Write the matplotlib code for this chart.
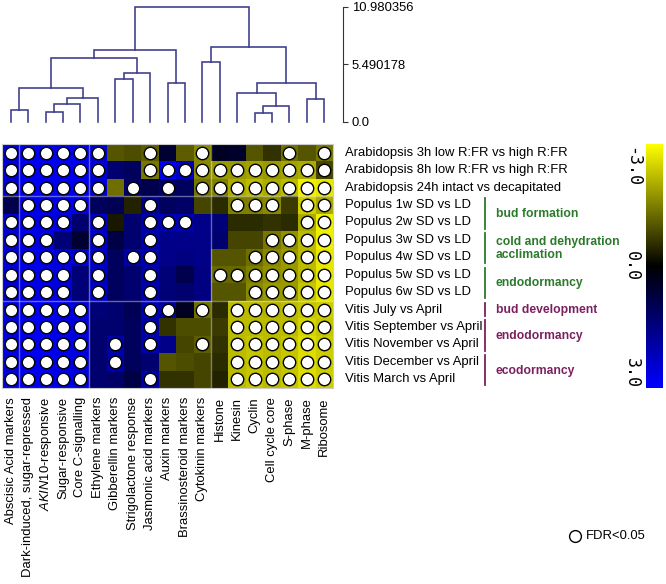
import numpy as np
import matplotlib
matplotlib.use('Agg')
import matplotlib.pyplot as plt
import matplotlib.transforms as mtransforms
from matplotlib.colors import LinearSegmentedColormap
from matplotlib.lines import Line2D

plt.rcParams['font.family'] = ['Liberation Sans', 'DejaVu Sans']
plt.rcParams['mathtext.fontset'] = 'custom'
plt.rcParams['mathtext.rm'] = 'Liberation Sans'
plt.rcParams['mathtext.it'] = 'Liberation Sans:italic'

## DATA

col_labels = ['Abscisic Acid markers', 'Dark-induced, sugar-repressed',
              r'$\mathit{AKIN10}$-responsive', 'Sugar-responsive',
              'Core C-signalling', 'Ethylene markers', 'Gibberellin markers',
              'Strigolactone response', 'Jasmonic acid markers', 'Auxin markers',
              'Brassinosteroid markers', 'Cytokinin markers', 'Histone', 'Kinesin',
              'Cyclin', 'Cell cycle core', 'S-phase', 'M-phase', 'Ribosome']

row_labels = ['Arabidopsis 3h low R:FR vs high R:FR',
              'Arabidopsis 8h low R:FR vs high R:FR',
              'Arabidopsis 24h intact vs decapitated',
              'Populus 1w SD vs LD', 'Populus 2w SD vs LD', 'Populus 3w SD vs LD',
              'Populus 4w SD vs LD', 'Populus 5w SD vs LD', 'Populus 6w SD vs LD',
              'Vitis July vs April', 'Vitis September vs April',
              'Vitis November vs April', 'Vitis December vs April',
              'Vitis March vs April']

# cell values (yellow = -3, black = 0, blue = 3)
vals = [
    [2.5, 2.8, 2.8, 2.8, 2.8, 2.5, -1.0, -0.9, -1.1, 0.6, -1.1, -1.6, 0.4, 0.5, -1.0, -0.6, -1.3, -1.0, -1.4],
    [2.5, 2.8, 2.8, 2.8, 2.8, 2.5, 1.3, 1.1, -1.4, 2.9, 2.3, -1.6, -1.8, -1.8, -1.9, -1.8, -1.9, -2.0, -0.8],
    [2.5, 2.8, 2.8, 2.8, 2.8, 2.5, -1.3, 1.2, 0.9, 1.2, 1.1, -1.4, -1.5, -2.0, -2.2, -2.0, -2.2, -2.8, -2.7],
    [0.9, 2.7, 2.7, 2.7, 2.7, 1.1, 1.0, -0.4, 1.6, 1.1, 1.2, -0.8, -0.5, -1.5, -1.5, -1.6, -0.7, -2.4, -2.0],
    [2.5, 2.7, 2.7, 2.6, 1.3, 2.3, -0.3, 1.3, 2.0, 2.1, 2.1, 1.6, 1.4, -0.5, -0.5, -0.6, -0.5, -2.0, -2.8],
    [2.5, 2.7, 2.6, 1.4, 0.6, 2.3, 0.8, 1.3, 2.0, 1.6, 1.6, 1.6, 1.3, -0.8, -0.8, -1.4, -1.7, -2.2, -2.8],
    [2.5, 2.7, 2.7, 2.6, 2.5, 2.3, 1.1, 1.9, 2.0, 1.6, 1.5, 1.6, -1.0, -1.0, -1.3, -1.6, -1.8, -2.2, -2.7],
    [2.5, 2.7, 2.7, 2.6, 1.4, 2.3, 1.1, 1.3, 2.0, 1.4, 0.9, 1.5, -1.2, -1.2, -1.5, -1.7, -1.8, -2.2, -2.7],
    [2.5, 2.7, 2.7, 2.6, 1.4, 2.3, 1.1, 1.3, 2.0, 1.4, 1.3, 1.5, -1.0, -1.0, -1.6, -1.8, -1.8, -2.3, -2.7],
    [2.6, 2.8, 2.8, 2.7, 2.6, 1.4, 1.3, 1.0, 2.1, 1.9, 0.4, -1.3, -0.5, -2.2, -2.2, -2.1, -2.2, -2.3, -2.4],
    [2.6, 2.8, 2.8, 2.7, 2.6, 1.3, 1.3, 1.1, 2.0, -0.6, -0.9, -0.9, -0.7, -2.2, -2.2, -2.2, -2.2, -2.5, -2.3],
    [2.6, 2.8, 2.8, 2.7, 2.6, 1.3, 2.0, 1.1, 2.0, 1.6, -0.8, -1.1, -0.6, -2.2, -2.3, -2.2, -2.3, -2.6, -2.4],
    [2.6, 2.8, 2.8, 2.7, 2.6, 1.3, 2.0, 1.1, 1.3, -1.0, -0.9, -0.8, -0.5, -2.2, -2.3, -2.2, -2.3, -2.6, -2.4],
    [2.6, 2.8, 2.8, 2.7, 2.6, 1.3, 1.2, 0.8, 2.0, -0.6, -0.6, -0.8, -0.4, -2.2, -2.3, -2.2, -2.3, -2.6, -2.4],
]

# columns (1-based) with FDR<0.05
sig = [
    [1, 2, 3, 4, 5, 6, 9, 12, 17, 19],
    [1, 2, 3, 4, 5, 6, 9, 10, 11, 12, 13, 14, 15, 16, 17, 18, 19],
    [1, 2, 3, 4, 5, 6, 8, 10, 12, 13, 14, 15, 16, 17, 18, 19],
    [2, 3, 4, 5, 9, 14, 15, 16, 18, 19],
    [1, 2, 3, 4, 6, 9, 10, 11, 18, 19],
    [1, 2, 3, 6, 9, 16, 17, 18, 19],
    [1, 2, 3, 4, 5, 6, 8, 9, 15, 16, 17, 18, 19],
    [1, 2, 3, 4, 6, 9, 13, 14, 15, 16, 17, 18, 19],
    [1, 2, 3, 4, 6, 9, 15, 16, 17, 18, 19],
    [1, 2, 3, 4, 5, 9, 10, 12, 14, 15, 16, 17, 18, 19],
    [1, 2, 3, 4, 5, 9, 14, 15, 16, 17, 18, 19],
    [1, 2, 3, 4, 5, 7, 9, 12, 14, 15, 16, 17, 18, 19],
    [1, 2, 3, 4, 5, 7, 14, 15, 16, 17, 18, 19],
    [1, 2, 3, 4, 5, 9, 14, 15, 16, 17, 18, 19],
]

# column dendrogram: (left, right, height), leaves 0..18, new nodes from 19
merges = [(0, 1, 1.12), (2, 3, 0.90), (20, 4, 1.72), (21, 5, 2.29),
          (19, 22, 3.19), (6, 7, 4.05), (24, 8, 4.62), (23, 25, 6.06),
          (9, 10, 3.72), (26, 27, 6.85), (11, 12, 5.73), (14, 15, 0.80),
          (30, 16, 1.50), (13, 31, 2.71), (17, 18, 2.17), (32, 33, 3.72),
          (29, 34, 7.11), (28, 35, 10.980356)]
dend_ticks = [0.0, 5.490178, 10.980356]
dend_ticklabels = ['0.0', '5.490178', '10.980356']

groups = [('bud formation', 3, 4, '#2b7a2b'),
          ('cold and dehydration\nacclimation', 5, 6, '#2b7a2b'),
          ('endodormancy', 7, 8, '#2b7a2b'),
          ('bud development', 9, 9, '#7a2060'),
          ('endodormancy', 10, 11, '#7a2060'),
          ('ecodormancy', 12, 13, '#7a2060')]

cbar_ticks = [-3.0, 0.0, 3.0]

## FIGURE

W, H = 666, 584
fig = plt.figure(figsize=(W / 100, H / 100), dpi=100)


def px_axes(x0, y0, x1, y1):
    return fig.add_axes([x0 / W, 1 - y1 / H, (x1 - x0) / W, (y1 - y0) / H])


cmap = LinearSegmentedColormap.from_list('ykb', ['#ffff00', '#000000', '#0000ff'])
nrow, ncol = len(row_labels), len(col_labels)

# heatmap
ax = px_axes(2, 144, 333, 388)
ax.imshow(np.array(vals), cmap=cmap, vmin=-3, vmax=3, aspect='auto',
          interpolation='nearest')
for r, cols in enumerate(sig):
    ax.scatter([c - 1 for c in cols], [r] * len(cols), s=80, facecolor='white',
               edgecolor='black', linewidth=1.0, zorder=3)
for y in [2.5, 8.5]:
    ax.axhline(y, color='white', alpha=0.4, lw=1)
for x in [0.5, 4.5, 11.5]:
    ax.axvline(x, color='white', alpha=0.4, lw=1)
ax.set_xticks([])
ax.set_yticks([])
for s in ax.spines.values():
    s.set_color('#cccccc')
    s.set_linewidth(0.8)

# row labels
tr_row = mtransforms.blended_transform_factory(fig.transFigure, ax.transData)
for i, lab in enumerate(row_labels):
    ax.text(345 / W, i, lab, transform=tr_row, ha='left', va='center', fontsize=9.4)

# column labels
tr_col = mtransforms.blended_transform_factory(ax.transData, fig.transFigure)
for j, lab in enumerate(col_labels):
    ax.text(j, 1 - 397 / H, lab, transform=tr_col, rotation=90, ha='center',
            va='top', fontsize=9.4)

# group annotations
for lab, r0, r1, colr in groups:
    ax.plot([485 / W, 485 / W], [r0 - 0.4, r1 + 0.35], transform=tr_row,
            color=colr, lw=1.3, clip_on=False)
    ax.text(496 / W, (r0 + r1) / 2, lab, transform=tr_row, ha='left', va='center',
            fontsize=8.7, fontweight='bold', color=colr, linespacing=1.15)

# dendrogram
axd = px_axes(2, 6.7, 333, 121.7)
pos = {i: (float(i), 0.0) for i in range(ncol)}
dcol = '#3b3b8c'
for k, (a, b, h) in enumerate(merges):
    xa, ha = pos[a]
    xb, hb = pos[b]
    axd.plot([xa, xa, xb, xb], [ha, h, h, hb], color=dcol, lw=1.15,
             solid_joinstyle='miter', clip_on=False)
    pos[ncol + k] = ((xa + xb) / 2, h)
axd.set_xlim(-0.5, ncol - 0.5)
axd.set_ylim(0, dend_ticks[-1])
axd.set_xticks([])
for s in ['top', 'bottom', 'left']:
    axd.spines[s].set_visible(False)
axd.spines['right'].set_position(('outward', 7.5))
axd.spines['right'].set_bounds(dend_ticks[0], dend_ticks[-1])
axd.spines['right'].set_color('#333333')
axd.yaxis.tick_right()
axd.set_yticks(dend_ticks)
axd.set_yticklabels(dend_ticklabels, fontsize=9.4)
axd.tick_params(axis='y', direction='out', length=3.6, width=0.8,
                color='#333333', pad=2.5)
axd.patch.set_alpha(0)

# colour key
axc = px_axes(646, 144, 663, 388)
grad = np.linspace(cbar_ticks[0], cbar_ticks[-1], 256).reshape(-1, 1)
axc.imshow(grad, cmap=cmap, vmin=-3, vmax=3, aspect='auto',
           extent=[0, 1, cbar_ticks[-1], cbar_ticks[0]])
axc.set_xticks([])
axc.set_yticks([])
for s in axc.spines.values():
    s.set_visible(False)
# label centres sit a little inside the ends of the key
for t, ypx in zip(cbar_ticks, [167, 266, 373]):
    fig.text(632 / W, 1 - ypx / H, '%.1f' % t, rotation=-90, ha='center',
             va='center', fontsize=12, family='DejaVu Sans Mono')

# legend
fig.add_artist(Line2D([575 / W], [1 - 536 / H], marker='o', markersize=8.5,
                      markerfacecolor='none', markeredgecolor='black',
                      markeredgewidth=1.0, transform=fig.transFigure))
fig.text(586 / W, 1 - 536 / H, 'FDR<0.05', ha='left', va='center', fontsize=9.4)

fig.savefig('out.png', dpi=100)
